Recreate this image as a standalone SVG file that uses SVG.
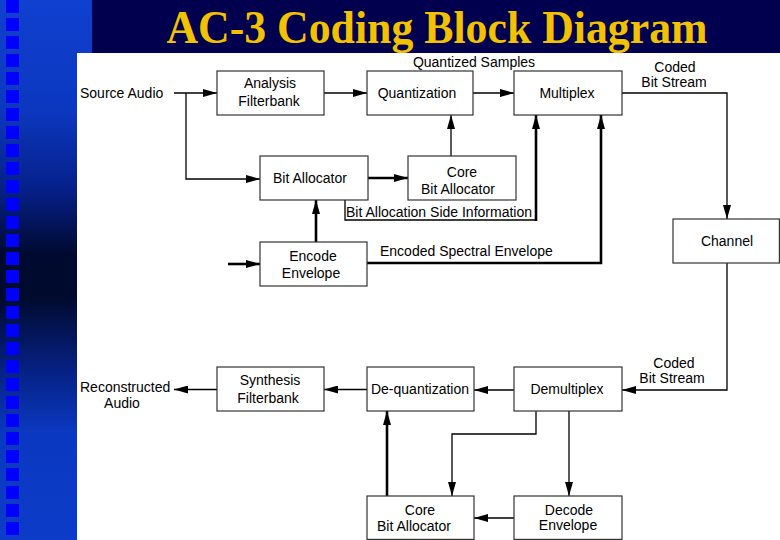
<svg xmlns="http://www.w3.org/2000/svg" width="780" height="540" viewBox="0 0 780 540">
<defs>
<linearGradient id="panel" x1="0" y1="0" x2="0" y2="1">
<stop offset="0" stop-color="#1040d0"/>
<stop offset="0.2" stop-color="#0c38c0"/>
<stop offset="0.35" stop-color="#06208a"/>
<stop offset="0.47" stop-color="#000a30"/>
<stop offset="0.55" stop-color="#000a2e"/>
<stop offset="0.68" stop-color="#062080"/>
<stop offset="0.8" stop-color="#0a38c0"/>
<stop offset="1" stop-color="#0c3cc8"/>
</linearGradient>
<pattern id="sq" x="0" y="0" width="20" height="18" patternUnits="userSpaceOnUse">
<rect x="6" y="0" width="13" height="13" fill="#0000ff"/>
</pattern>
<marker id="ah" viewBox="0 0 14 8" refX="14" refY="4" markerWidth="14" markerHeight="8" markerUnits="userSpaceOnUse" orient="auto">
<path d="M0,0 L14,4 L0,8 z" fill="#000"/>
</marker>
</defs>
<style>
.box{fill:#fff;stroke:#333;stroke-width:1.2}
.t{font-family:"Liberation Sans",Arial,sans-serif;font-size:14px;fill:#000}
.c{text-anchor:middle}
.ln{fill:none;stroke:#000;stroke-width:1.3}
.th{fill:none;stroke:#000;stroke-width:2.6}
.ar{marker-end:url(#ah)}
</style>
<rect x="0" y="0" width="780" height="540" fill="#00004e"/>
<rect x="0" y="0" width="92" height="540" fill="url(#panel)"/>
<rect x="0" y="0" width="20" height="540" fill="url(#sq)"/>
<rect x="77" y="53" width="703" height="487" fill="#fff"/>
<text x="437" y="43" font-family="'Liberation Serif','Times New Roman',serif" font-weight="bold" font-size="47" fill="#f2c200" text-anchor="middle" textLength="541" lengthAdjust="spacingAndGlyphs">AC-3 Coding Block Diagram</text>

<g id="connectors">
<path class="ln ar" d="M174,93 H217"/>
<path class="ln ar" d="M186,93 V179 H260"/>
<path class="ln ar" d="M324,93 H367"/>
<path class="ln ar" d="M473,93 H514"/>
<path class="ln ar" d="M622,93 H727 V219"/>
<path class="th ar" d="M368,178 H408"/>
<path class="ln ar" d="M451,156 V115"/>
<path class="ln" d="M345,200 V220 H536"/>
<path class="th ar" d="M536,221 V115"/>
<path class="th ar" d="M228,264 H260"/>
<path class="th ar" d="M316,242 V200"/>
<path class="th ar" d="M367,263 H601 V115"/>
<path class="ln ar" d="M727,263 V390 H622"/>
<path class="ln ar" d="M514,390 H474"/>
<path class="ln ar" d="M367,389.5 H324"/>
<path class="ln ar" d="M217,389.5 H174"/>
<path class="ln ar" d="M536,411 V434 H452 V496"/>
<path class="ln ar" d="M569,411 V496"/>
<path class="ln ar" d="M514,518 H474"/>
<path class="th ar" d="M387,496 V411"/>
</g>

<g id="labels">
<text class="t" x="80" y="98">Source Audio</text>
<text class="t c" x="474" y="67">Quantized Samples</text>
<text class="t c" x="675" y="72">Coded</text>
<text class="t c" x="674" y="87">Bit Stream</text>
<text class="t" x="346" y="217">Bit Allocation Side Information</text>
<text class="t" x="380" y="256">Encoded Spectral Envelope</text>
<text class="t c" x="674" y="368">Coded</text>
<text class="t c" x="672" y="383">Bit Stream</text>
<text class="t" x="80" y="392">Reconstructed</text>
<text class="t c" x="122" y="408">Audio</text>
</g>

<g id="analysis">
<rect class="box" x="217" y="71" width="107" height="44"/>
<text class="t c" x="270" y="88">Analysis</text>
<text class="t c" x="269" y="106">Filterbank</text>
</g>
<g id="quantization">
<rect class="box" x="367" y="71" width="106" height="44"/>
<text class="t c" x="417" y="98">Quantization</text>
</g>
<g id="multiplex">
<rect class="box" x="514" y="71" width="108" height="44"/>
<text class="t c" x="567" y="98">Multiplex</text>
</g>
<g id="bit-allocator">
<rect class="box" x="260" y="156" width="108" height="44"/>
<text class="t c" x="310" y="183">Bit Allocator</text>
</g>
<g id="core-bit-allocator-enc">
<rect class="box" x="408" y="156" width="108" height="44"/>
<text class="t c" x="462" y="177">Core</text>
<text class="t c" x="458" y="194">Bit Allocator</text>
</g>
<g id="encode-envelope">
<rect class="box" x="260" y="242" width="107" height="44"/>
<text class="t c" x="313" y="261">Encode</text>
<text class="t c" x="311" y="278">Envelope</text>
</g>
<g id="channel">
<rect class="box" x="673" y="219" width="106.4" height="44"/>
<text class="t c" x="727" y="246">Channel</text>
</g>
<g id="synthesis">
<rect class="box" x="217" y="367" width="107" height="44"/>
<text class="t c" x="270" y="385">Synthesis</text>
<text class="t c" x="268" y="403">Filterbank</text>
</g>
<g id="dequantization">
<rect class="box" x="367" y="367" width="107" height="44"/>
<text class="t c" x="420" y="394">De-quantization</text>
</g>
<g id="demultiplex">
<rect class="box" x="514" y="367" width="108" height="44"/>
<text class="t c" x="567" y="394">Demultiplex</text>
</g>
<g id="core-bit-allocator-dec">
<rect class="box" x="367" y="496" width="107" height="43.4"/>
<text class="t c" x="420" y="515">Core</text>
<text class="t c" x="414" y="531">Bit Allocator</text>
</g>
<g id="decode-envelope">
<rect class="box" x="514" y="496" width="108" height="43.4"/>
<text class="t c" x="569" y="515">Decode</text>
<text class="t c" x="568" y="530">Envelope</text>
</g>
</svg>
